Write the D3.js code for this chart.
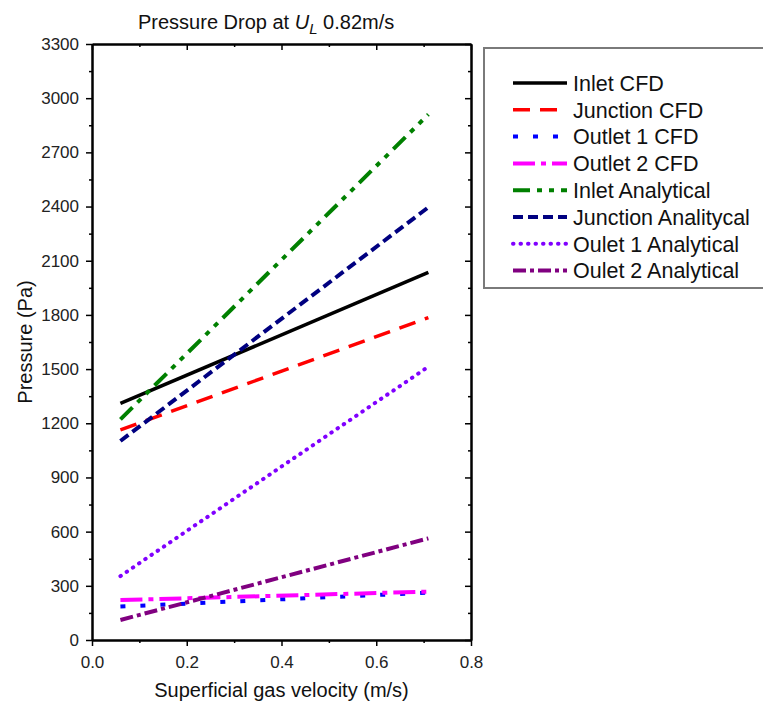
<!DOCTYPE html>
<html>
<head>
<meta charset="utf-8">
<title>Pressure Drop at UL 0.82m/s</title>
<script src="https://d3js.org/d3.v7.min.js"></script>
<style>
  body { margin: 0; background: #fff; }
  svg { display: block; font-family: "Liberation Sans", Arial, sans-serif; }
</style>
</head>
<body>
<div id="chart"></div>
<script>
// series (Pa), gas velocity in m/s
var velocity = [0.06, 0.71];
var names = ["Inlet CFD", "Junction CFD", "Outlet 1 CFD", "Outlet 2 CFD",
             "Inlet Analytical", "Junction Analitycal", "Oulet 1 Analytical", "Oulet 2 Analytical"];
var inletCFD = [1310, 2035];
var junctionCFD = [1163, 1785];
var outlet1CFD = [185, 262];
var outlet2CFD = [221, 268];
var inletAnalytical = [1222, 2910];
var junctionAnalytical = [1102, 2396];
var outlet1Analytical = [354, 1513];
var outlet2Analytical = [111, 563];
var xTicks = [0, 0.2, 0.4, 0.6, 0.8];
var yTicks = d3.range(0, 3301, 300);

var series = [inletCFD, junctionCFD, outlet1CFD, outlet2CFD,
              inletAnalytical, junctionAnalytical, outlet1Analytical, outlet2Analytical];
var colors = ["#000000", "#ff0000", "#0000ff", "#ff00ff", "#008000", "#000080", "#8000ff", "#800080"];
var dashes = [null, "17,10", "5,15", "22,6,5,6", "17,7,5,7,5,7", "10,5", "0.5,7", "13,4,4,4"];
var caps = ["butt", "butt", "butt", "butt", "butt", "butt", "round", "butt"];
var widths = [3.5, 3.5, 4, 4, 4, 4, 4, 4];

var W = 763, H = 705;
var pL = 92, pR = 471, pT = 44, pB = 640;

var svg = d3.select("#chart").append("svg").attr("width", W).attr("height", H);

var x = d3.scaleLinear().domain([0, 0.8]).range([pL, pR]);
var y = d3.scaleLinear().domain([0, 3300]).range([pB, pT]);

// minor ticks
var xMinor = d3.range(0.1, 0.8, 0.2);
var yMinor = d3.range(150, 3300, 300);

var gx = svg.append("g").attr("transform", "translate(0," + pB + ")")
  .call(d3.axisBottom(x).tickValues(xTicks).tickFormat(d3.format(".1f")).tickSize(6).tickSizeOuter(0));
var gy = svg.append("g").attr("transform", "translate(" + pL + ",0)")
  .call(d3.axisLeft(y).tickValues(yTicks).tickFormat(d3.format("d")).tickSize(6).tickSizeOuter(0));
svg.append("g").attr("transform", "translate(0," + pB + ")")
  .call(d3.axisBottom(x).tickValues(xMinor).tickFormat("").tickSize(3).tickSizeOuter(0));
svg.append("g").attr("transform", "translate(" + pL + ",0)")
  .call(d3.axisLeft(y).tickValues(yMinor).tickFormat("").tickSize(3).tickSizeOuter(0));
// mirrored top / right, ticks pointing in
svg.append("g").attr("transform", "translate(0," + pT + ")")
  .call(d3.axisBottom(x).tickValues(xTicks).tickFormat("").tickSize(6).tickSizeOuter(0));
svg.append("g").attr("transform", "translate(0," + pT + ")")
  .call(d3.axisBottom(x).tickValues(xMinor).tickFormat("").tickSize(3).tickSizeOuter(0));
svg.append("g").attr("transform", "translate(" + pR + ",0)")
  .call(d3.axisLeft(y).tickValues(yTicks).tickFormat("").tickSize(6).tickSizeOuter(0));
svg.append("g").attr("transform", "translate(" + pR + ",0)")
  .call(d3.axisLeft(y).tickValues(yMinor).tickFormat("").tickSize(3).tickSizeOuter(0));

svg.selectAll(".domain").attr("stroke", "#000").attr("stroke-width", 2);
svg.selectAll(".tick line").attr("stroke", "#000").attr("stroke-width", 1.5);
svg.selectAll(".tick text").attr("fill", "#222").style("font-size", "17px")
  .style("font-family", "'Liberation Sans', Arial, sans-serif");
gx.selectAll(".tick text").attr("dy", "1.1em");
gy.selectAll(".tick text").attr("x", -13);

// lines
var line = d3.line().x(function(d, i) { return x(velocity[i]); }).y(function(d) { return y(d); });
series.forEach(function(s, k) {
  svg.append("path").datum(s)
    .attr("d", line)
    .attr("fill", "none")
    .attr("stroke", colors[k])
    .attr("stroke-width", widths[k])
    .attr("stroke-dasharray", dashes[k])
    .attr("stroke-linecap", caps[k]);
});

// title
var title = svg.append("text").attr("x", 138).attr("y", 29)
  .style("font-size", "20px").attr("fill", "#111");
title.append("tspan").text("Pressure Drop at ");
title.append("tspan").style("font-style", "italic").text("U");
title.append("tspan").attr("dy", 5).style("font-size", "15px").style("font-style", "italic").text("L");
title.append("tspan").attr("dy", -5).text(" 0.82m/s");

// axis titles
svg.append("text").attr("x", (pL + pR) / 2).attr("y", 697)
  .attr("text-anchor", "middle").style("font-size", "20px").attr("fill", "#111")
  .text("Superficial gas velocity (m/s)");
svg.append("text").attr("transform", "translate(32," + ((pT + pB) / 2) + ") rotate(-90)")
  .attr("text-anchor", "middle").style("font-size", "20px").attr("fill", "#111")
  .text("Pressure (Pa)");

// legend
svg.append("rect").attr("x", 484).attr("y", 48).attr("width", 300).attr("height", 240)
  .attr("fill", "#fff").attr("stroke", "#7a7a7a").attr("stroke-width", 2);
names.forEach(function(n, k) {
  var ly = 83 + k * 26.8;
  svg.append("line").attr("x1", 513).attr("x2", 567).attr("y1", ly).attr("y2", ly)
    .attr("stroke", colors[k]).attr("stroke-width", widths[k])
    .attr("stroke-dasharray", dashes[k]).attr("stroke-linecap", caps[k]);
  svg.append("text").attr("x", 573).attr("y", ly).attr("dy", "0.36em")
    .style("font-size", "21.5px").attr("fill", "#111").text(n);
});
</script>
</body>
</html>
